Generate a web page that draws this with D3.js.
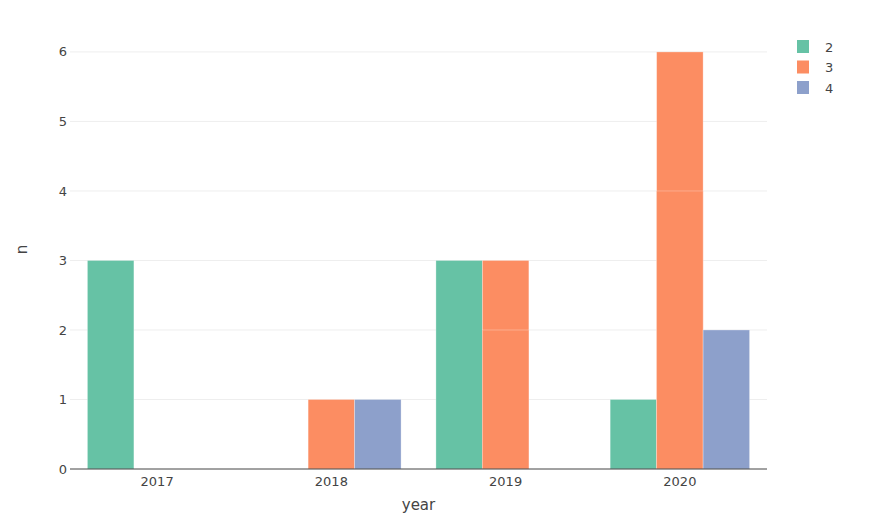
<!DOCTYPE html>
<html>
<head>
<meta charset="utf-8">
<script src="https://cdn.jsdelivr.net/npm/d3@7"></script>
<style>
body { margin: 0; background: #fff; }
text { font-family: "DejaVu Sans", Verdana, sans-serif; fill: #444; }
</style>
</head>
<body>
<div id="chart"></div>
<script>
// categories and groups
var years = ["2017", "2018", "2019", "2020"];
var groups = ["2", "3", "4"];
// each year can hold several rows for a group; plotly overlays them from 0
var rows2 = [[3], [], [3], [1]];
var rows3 = [[], [1], [3, 2], [6, 4]];
var rows4 = [[], [1], [], [2]];
var yTicks = [0, 1, 2, 3, 4, 5, 6];
var colors = ["#66c2a5", "#fc8d62", "#8da0cb"];

var W = 877, H = 530;
var margin = { top: 30, right: 110, bottom: 61, left: 70 };
var width = W - margin.left - margin.right;
var height = H - margin.top - margin.bottom;

var svg = d3.select("#chart").append("svg")
  .attr("width", W)
  .attr("height", H);
var g = svg.append("g")
  .attr("transform", "translate(" + margin.left + "," + margin.top + ")");

var x = d3.scaleBand().domain(years).range([0, width]).paddingInner(0.2).paddingOuter(0.1);
var xInner = d3.scaleBand().domain(groups).range([0, x.bandwidth()]);
var y = d3.scaleLinear().domain([0, 6 * 1.0526]).range([height, 0]);

// grid
g.append("g").selectAll("line")
  .data(yTicks.filter(function (d) { return d > 0; }))
  .enter().append("line")
  .attr("x1", 0).attr("x2", width)
  .attr("y1", function (d) { return y(d); })
  .attr("y2", function (d) { return y(d); })
  .attr("stroke", "#eee")
  .attr("stroke-width", 1);

// bars
var series = [rows2, rows3, rows4];
var bars = [];
series.forEach(function (s, gi) {
  s.forEach(function (rows, yi) {
    rows.slice().sort(function (a, b) { return b - a; }).forEach(function (v) {
      bars.push({ year: years[yi], group: groups[gi], value: v, color: colors[gi] });
    });
  });
});

g.append("g").selectAll("rect")
  .data(bars)
  .enter().append("rect")
  .attr("x", function (d) { return x(d.year) + xInner(d.group); })
  .attr("width", xInner.bandwidth())
  .attr("y", function (d) { return y(d.value); })
  .attr("height", function (d) { return y(0) - y(d.value); })
  .attr("fill", function (d) { return d.color; })
  .attr("stroke", "rgba(255,255,255,0.35)")
  .attr("stroke-width", 0.8);

// zero line
g.append("line")
  .attr("x1", 0).attr("x2", width)
  .attr("y1", y(0)).attr("y2", y(0))
  .attr("stroke", "#444")
  .attr("stroke-width", 1);

// y tick labels
g.append("g").selectAll("text")
  .data(yTicks)
  .enter().append("text")
  .attr("x", -3)
  .attr("y", function (d) { return y(d); })
  .attr("dy", "0.35em")
  .attr("text-anchor", "end")
  .style("font-size", "13px")
  .text(function (d) { return d; });

// x tick labels
g.append("g").selectAll("text")
  .data(years)
  .enter().append("text")
  .attr("x", function (d) { return x(d) + x.bandwidth() / 2; })
  .attr("y", height + 17)
  .attr("text-anchor", "middle")
  .style("font-size", "13px")
  .text(function (d) { return d; });

// axis titles
svg.append("text")
  .attr("x", margin.left + width / 2)
  .attr("y", 510)
  .attr("text-anchor", "middle")
  .style("font-size", "15px")
  .text("year");
svg.append("text")
  .attr("transform", "translate(27," + (margin.top + height / 2) + ") rotate(-90)")
  .attr("text-anchor", "middle")
  .style("font-size", "15px")
  .text("n");

// legend
var legend = svg.append("g").attr("transform", "translate(797,40)");
var item = legend.selectAll("g")
  .data(groups)
  .enter().append("g")
  .attr("transform", function (d, i) { return "translate(0," + i * 20.5 + ")"; });
item.append("rect")
  .attr("width", 12).attr("height", 13)
  .attr("fill", function (d, i) { return colors[i]; });
item.append("text")
  .attr("x", 28)
  .attr("y", 7)
  .attr("dy", "0.35em")
  .style("font-size", "13px")
  .text(function (d) { return d; });
</script>
</body>
</html>
